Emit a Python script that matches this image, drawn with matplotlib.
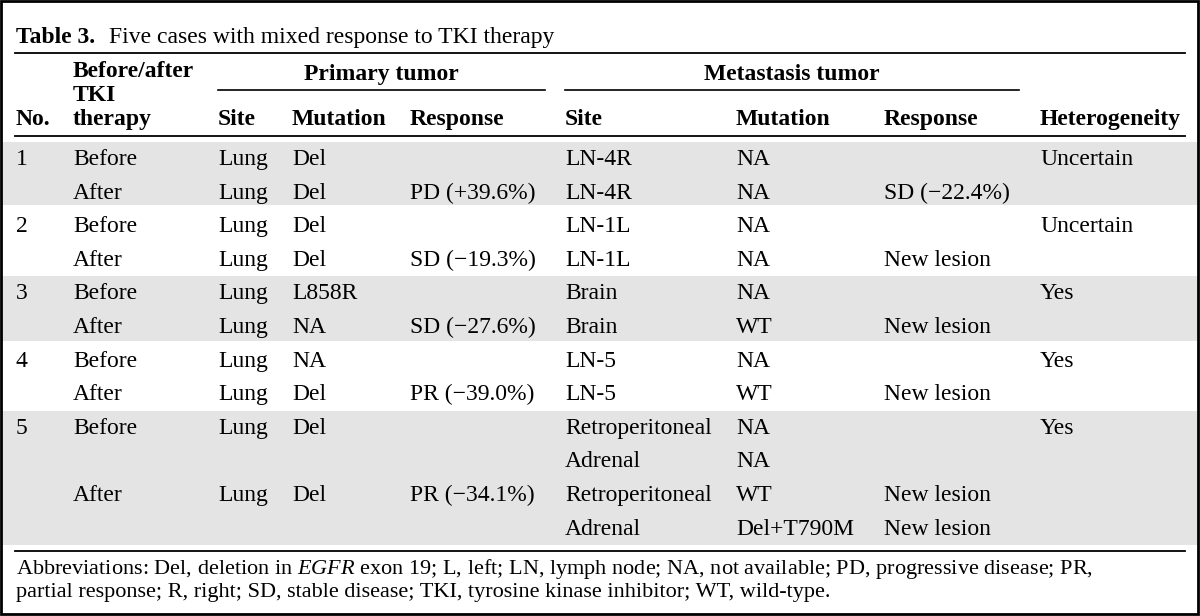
import matplotlib
matplotlib.use("Agg")
from matplotlib import pyplot as plt
from matplotlib.patches import Rectangle

plt.rcParams['font.family'] = ['Liberation Serif', 'DejaVu Serif']
plt.rcParams['mathtext.fontset'] = 'custom'
plt.rcParams['mathtext.rm'] = 'Liberation Serif'
plt.rcParams['mathtext.it'] = 'Liberation Serif:italic'

# table content
title_bold = "Table 3."
title_text = "Five cases with mixed response to TKI therapy"
group_headers = ["Primary tumor", "Metastasis tumor"]
col_headers = ["No.", "Before/after\nTKI\ntherapy", "Site", "Mutation", "Response",
               "Site", "Mutation", "Response", "Heterogeneity"]

case_no = ["1", "", "2", "", "3", "", "4", "", "5", "", "", ""]
timing = ["Before", "After", "Before", "After", "Before", "After", "Before", "After",
          "Before", "", "After", ""]
prim_site = ["Lung", "Lung", "Lung", "Lung", "Lung", "Lung", "Lung", "Lung",
             "Lung", "", "Lung", ""]
prim_mut = ["Del", "Del", "Del", "Del", "L858R", "NA", "NA", "Del", "Del", "", "Del", ""]
prim_resp = ["", "PD (+39.6%)", "", "SD (\u221219.3%)", "", "SD (\u221227.6%)",
             "", "PR (\u221239.0%)", "", "", "PR (\u221234.1%)", ""]
met_site = ["LN-4R", "LN-4R", "LN-1L", "LN-1L", "Brain", "Brain", "LN-5", "LN-5",
            "Retroperitoneal", "Adrenal", "Retroperitoneal", "Adrenal"]
met_mut = ["NA", "NA", "NA", "NA", "NA", "WT", "NA", "WT", "NA", "NA", "WT", "Del+T790M"]
met_resp = ["", "SD (\u221222.4%)", "", "New lesion", "", "New lesion", "", "New lesion",
            "", "", "New lesion", "New lesion"]
hetero = ["Uncertain", "", "Uncertain", "", "Yes", "", "Yes", "", "Yes", "", "", ""]

footnote = ["Abbreviations: Del, deletion in $\\mathit{EGFR}$ exon 19; L, left; LN, lymph node; "
            "NA, not available; PD, progressive disease; PR,",
            "partial response; R, right; SD, stable disease; TKI, tyrosine kinase inhibitor; WT, wild-type."]

columns = [case_no, timing, prim_site, prim_mut, prim_resp, met_site, met_mut, met_resp, hetero]
col_x = [16, 73, 218, 292, 410, 565, 736, 884, 1040]
shaded = [(142, 205), (276, 341), (411, 545)]

fs = 17
fig = plt.figure(figsize=(12, 6.16), dpi=100)
ax = fig.add_axes([0, 0, 1, 1])
ax.set_xlim(0, 1200)
ax.set_ylim(616, 0)
ax.axis("off")

for y0, y1 in shaded:
    ax.add_patch(Rectangle((2, y0), 1195, y1 - y0, color="#e4e4e4", lw=0))

ax.add_patch(Rectangle((1, 1), 1197, 613, fill=False, ec="black", lw=2))

# title
ax.text(16, 43, title_bold, fontsize=fs, fontweight="bold", va="baseline")
ax.text(109, 43, title_text, fontsize=fs, va="baseline")

# rules
ax.plot([15, 1185], [53, 53], color="black", lw=1.3)
ax.plot([218, 545], [90, 90], color="black", lw=1.2)
ax.plot([565, 1019], [90, 90], color="black", lw=1.2)
ax.plot([15, 1185], [136, 136], color="black", lw=1.3)
ax.plot([15, 1185], [551, 551], color="black", lw=1.3)

# headers
ax.text(381, 80, group_headers[0], fontsize=fs, fontweight="bold", ha="center", va="baseline")
ax.text(792, 80, group_headers[1], fontsize=fs, fontweight="bold", ha="center", va="baseline")
for x, h in zip(col_x, col_headers):
    lines = h.split("\n")
    for k, line in enumerate(reversed(lines)):
        ax.text(x, 125 - 24 * k, line, fontsize=fs, fontweight="bold", va="baseline")

# body
for x, col in zip(col_x, columns):
    for i, val in enumerate(col):
        if val:
            ax.text(x, 165 + 33.6 * i, val, fontsize=fs, va="baseline")

# footnote
ax.text(16, 574, footnote[0], fontsize=16, va="baseline")
ax.text(16, 597, footnote[1], fontsize=16, va="baseline")

fig.savefig("out.png", dpi=100)
